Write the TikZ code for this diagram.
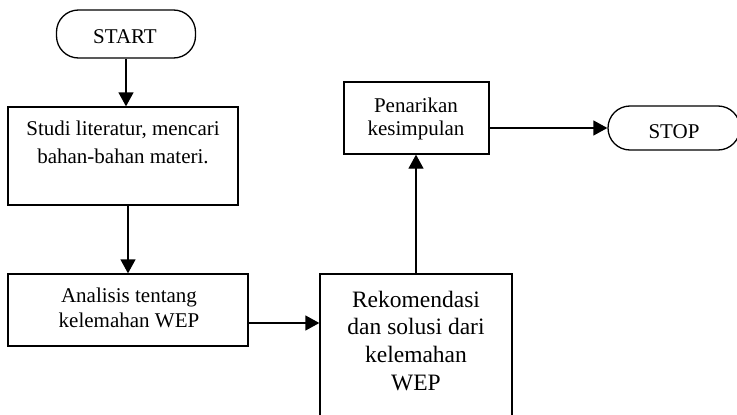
\documentclass[tikz,border=0pt]{standalone}
\usepackage{fontspec}
\setmainfont{Liberation Serif}
\usetikzlibrary{arrows.meta}
\newcommand\mylines[3]{{\fontsize{#1}{#2}\selectfont\begin{tabular}[t]{@{}c@{}}#3\end{tabular}}}
\begin{document}
\begin{tikzpicture}[x=1pt,y=-1pt,line width=1.3pt,
  box/.style={draw,rectangle,inner sep=0pt},
  pill/.style={draw,rectangle,rounded corners=22pt,inner sep=0pt},
  txt/.style={anchor=base,inner sep=0pt},
  arr/.style={-{Triangle[length=14pt,width=15pt]}}]
\clip (0,0) rectangle (737,415);
% START
\node[pill,minimum width=139pt,minimum height=48pt] (start) at (126,34) {};
\node[txt] (startT) at (125,43) {\mylines{21}{25}{START}};
% Studi
\node[box,minimum width=230pt,minimum height=98pt] (studi) at (123,156) {};
\node[txt] (studiT) at (123,135) {\mylines{21}{28}{Studi literatur, mencari\\bahan-bahan materi.}};
% Analisis
\node[box,minimum width=240pt,minimum height=72pt] (anal) at (128,310) {};
\node[txt] (analT) at (129,302) {\mylines{21}{25}{Analisis tentang\\kelemahan WEP}};
% Rekomendasi
\node[box,minimum width=192pt,minimum height=170pt] (rek) at (416,359) {};
\node[txt] (rekT) at (416,307) {\mylines{23.5}{27.7}{Rekomendasi\\dan solusi dari\\kelemahan\\WEP}};
% Penarikan
\node[box,minimum width=145pt,minimum height=72pt] (pen) at (416.5,118) {};
\node[txt] (penT) at (416,112) {\mylines{21}{23.5}{Penarikan\\kesimpulan}};
% STOP
\node[pill,minimum width=132pt,minimum height=44pt] (stop) at (674,128) {};
\node[txt] (stopT) at (674,138) {\mylines{21}{25}{STOP}};
% connectors
\draw[arr] (start.south) -- (start.south |- studi.north);
\draw[arr] (anal.north |- studi.south) -- (anal.north);
\draw[arr] ([yshift=-13pt]anal.east) coordinate (a1) -- (a1 -| rek.west);
\draw[arr] (rek.north) -- (rek.north |- pen.south);
\draw[arr] (pen.east |- stop.west) -- (stop.west);
\end{tikzpicture}
\end{document}
